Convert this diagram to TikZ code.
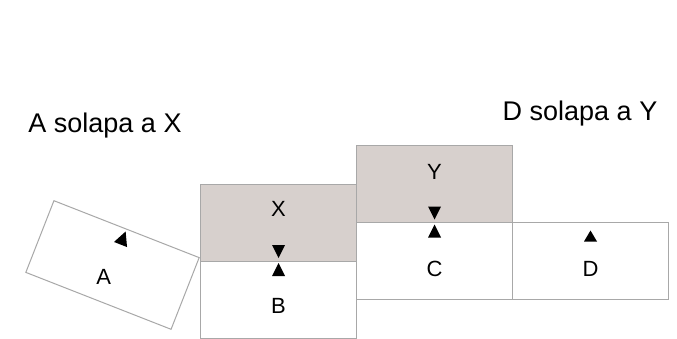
\documentclass[tikz,border=0pt]{standalone}
\usepackage{fontspec}
\setmainfont{Liberation Sans}
\usetikzlibrary{positioning}
\usetikzlibrary{calc}
\definecolor{overlapgray}{RGB}{215,208,205}
\definecolor{edgegray}{RGB}{168,168,168}

\begin{document}
\begin{tikzpicture}[x=1pt,y=1pt,  box/.style={    draw=edgegray,    line width=1pt,    rectangle,    minimum width=156pt,    minimum height=77pt,    inner sep=0pt,    outer sep=0pt  },  shaded/.style={    fill=overlapgray  },  lbl/.style={    font=\fontsize{22}{26}\selectfont  },  caption/.style={    font=\fontsize{27}{32}\selectfont  }]
		\useasboundingbox[fill=white] (0,0) rectangle (677,338);
		% Boxes
		\node[box, shaded] (X) at (278.5,115.5) {};
		\node[box, below=0pt of X] (B) {};
		\node[box, shaded, anchor=south west] (Y) at (X.east) {};
		\node[box, below=0pt of Y] (C) {};
		\node[box, anchor=north west] (D) at (C.north east) {};
		\node[box, rotate=-21.4] (A) at (112.5,73) {};
		% Labels
		\node[lbl] (labX) at ([yshift=14pt]X.center) {X};
		\node[lbl] (labB) at ([yshift=-6pt]B.center) {B};
		\node[lbl] (labY) at ([yshift=12pt]Y.center) {Y};
		\node[lbl] (labC) at ([yshift=-8pt]C.center) {C};
		\node[lbl] (labD) at ([yshift=-8pt]D.center) {D};
		\node[lbl] (labA) at ([xshift=-4pt]$(A.center)!0.34!(A.south)$) {A};
		% Markers
		\fill ($(X.south)+(-6.5,16)$) -- ++(13,0) -- ++(-6.5,-13) -- cycle;
		\fill ($(B.north)+(0,-2)$) -- ++(6.5,-13) -- ++(-13,0) -- cycle;
		\fill ($(Y.south)+(-6.5,16)$) -- ++(13,0) -- ++(-6.5,-13) -- cycle;
		\fill ($(C.north)+(0,-2)$) -- ++(6.5,-13) -- ++(-13,0) -- cycle;
		\fill ($(D.north)+(0,-8)$) -- ++(6.5,-11) -- ++(-13,0) -- cycle;
		\begin{scope}[shift={(A.center)}, rotate=-21.4]
			\fill (0,36) -- (7,22) -- (-7,22) -- cycle;
		\end{scope}
		% Captions
		\node[caption] (capA) at (105,212) {A solapa a X};
		\node[caption] (capD) at (580,224) {D solapa a Y};
	\end{tikzpicture}
\end{document}
